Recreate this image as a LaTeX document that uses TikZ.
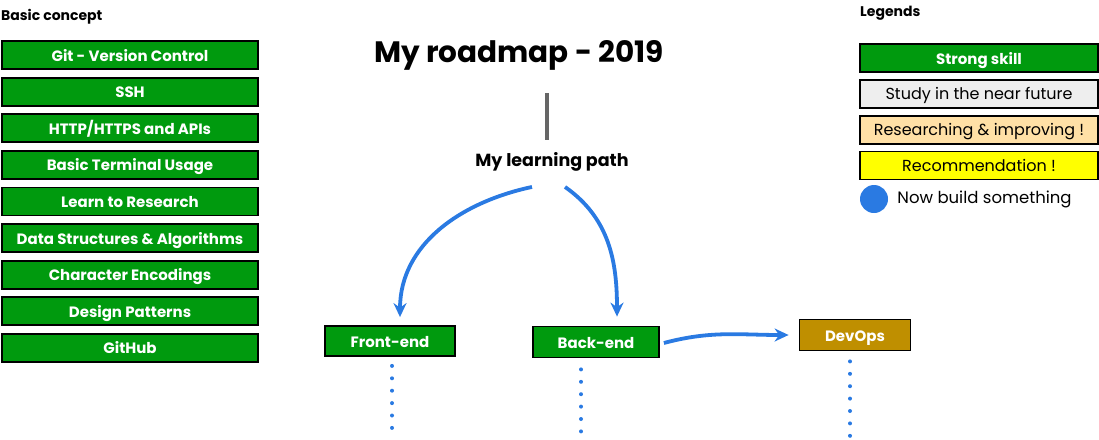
\documentclass[tikz,border=0pt]{standalone}
\usepackage{fontspec}
\setmainfont{Poppins}
\usetikzlibrary{arrows.meta, positioning}
\definecolor{skillgreen}{HTML}{009A0E}
\definecolor{studygray}{HTML}{EEEEEE}
\definecolor{researchorange}{HTML}{FFE0A6}
\definecolor{recoyellow}{HTML}{FFFF00}
\definecolor{devopsgold}{HTML}{BF8F00}
\definecolor{pathblue}{HTML}{2A7AE2}

\begin{document}
\begin{tikzpicture}[x=1pt, y=1pt,
  node distance=6.8pt,
  skill/.style={rectangle, draw=black, line width=1.8pt, fill=skillgreen,
                text=white, minimum width=256pt, minimum height=28pt,
                text height=13pt, text depth=1pt,
                inner sep=0pt, font=\bfseries\fontsize{15}{17}\selectfont},
  legend/.style={skill, minimum width=238pt, text=black, font=\fontsize{16}{18}\selectfont},
  topic/.style={skill, minimum height=30pt},
  heading/.style={font=\bfseries\fontsize{14}{16}\selectfont, anchor=west, inner sep=0pt},
  arrow/.style={-{Stealth[length=14pt, width=13pt]}, line width=3.8pt, pathblue},
  dots/.style={line width=4pt, pathblue, line cap=round, dash pattern=on 0pt off 12.4pt},
]
  \useasboundingbox (0,0) rectangle (1099,-439);

  % basic concepts
  \node[heading] (basic) at (1,-17) {Basic concept};
  \node[skill] (git) at (130,-55) {Git - Version Control};
  \node[skill, below=of git] (ssh) {SSH};
  \node[skill, below=of ssh] (http) {HTTP/HTTPS and APIs};
  \node[skill, below=of http] (terminal) {Basic Terminal Usage};
  \node[skill, below=of terminal] (research) {Learn to Research};
  \node[skill, below=of research] (dsa) {Data Structures \& Algorithms};
  \node[skill, below=of dsa] (encoding) {Character Encodings};
  \node[skill, below=of encoding] (patterns) {Design Patterns};
  \node[skill, below=of patterns] (github) {GitHub};

  % title and path
  \node[font=\bfseries\fontsize{29.5}{32}\selectfont] (title) at (519,-55) {My roadmap - 2019};
  \node[font=\bfseries\fontsize{17.5}{19}\selectfont] (path) at (552,-162) {My learning path};
  \draw[line width=3.5pt, black!60] (547,-93) -- (547,-140);

  \node[topic] (frontend) at (390,-341) [minimum width=130pt] {Front-end};
  \node[topic] (backend) at (596,-342) [minimum width=126pt, minimum height=31pt] {Back-end};
  \node[topic, fill=devopsgold] (devops) at (855,-335) [minimum width=111pt, minimum height=31pt] {DevOps};

  \draw[arrow] ([xshift=-20pt, yshift=-12pt]path.south) to[out=192, in=90] ([xshift=10pt, yshift=8pt]frontend.north);
  \draw[arrow] ([xshift=13pt, yshift=-12pt]path.south) to[out=-35, in=90] ([xshift=21pt, yshift=9pt]backend.north);
  \draw[arrow] ([xshift=4pt, yshift=-1pt]backend.east) to[out=15, in=180] ([xshift=-10pt]devops.west);

  \draw[dots] ([xshift=2pt, yshift=-9pt]frontend.south) -- ++(0,-66);
  \draw[dots] ([xshift=-15pt, yshift=-11pt]backend.south) -- ++(0,-64);
  \draw[dots] ([xshift=-5pt, yshift=-10pt]devops.south) -- ++(0,-76);

  % legends
  \node[heading] (legends) at (860,-13) {Legends};
  \node[skill, minimum width=238pt] (strong) at (979,-58) {Strong skill};
  \node[legend, fill=studygray, below=6pt of strong] (study) {Study in the near future};
  \node[legend, fill=researchorange, below=6pt of study] (researching) {Researching \& improving !};
  \node[legend, fill=recoyellow, below=6pt of researching] (reco) {Recommendation !};
  \node[circle, fill=pathblue, minimum size=28pt, inner sep=0pt] (build) at (874,-199) {};
  \node[right=9pt of build, inner sep=0pt, font=\fontsize{16.5}{18}\selectfont] (buildtext) {Now build something};
\end{tikzpicture}
\end{document}
